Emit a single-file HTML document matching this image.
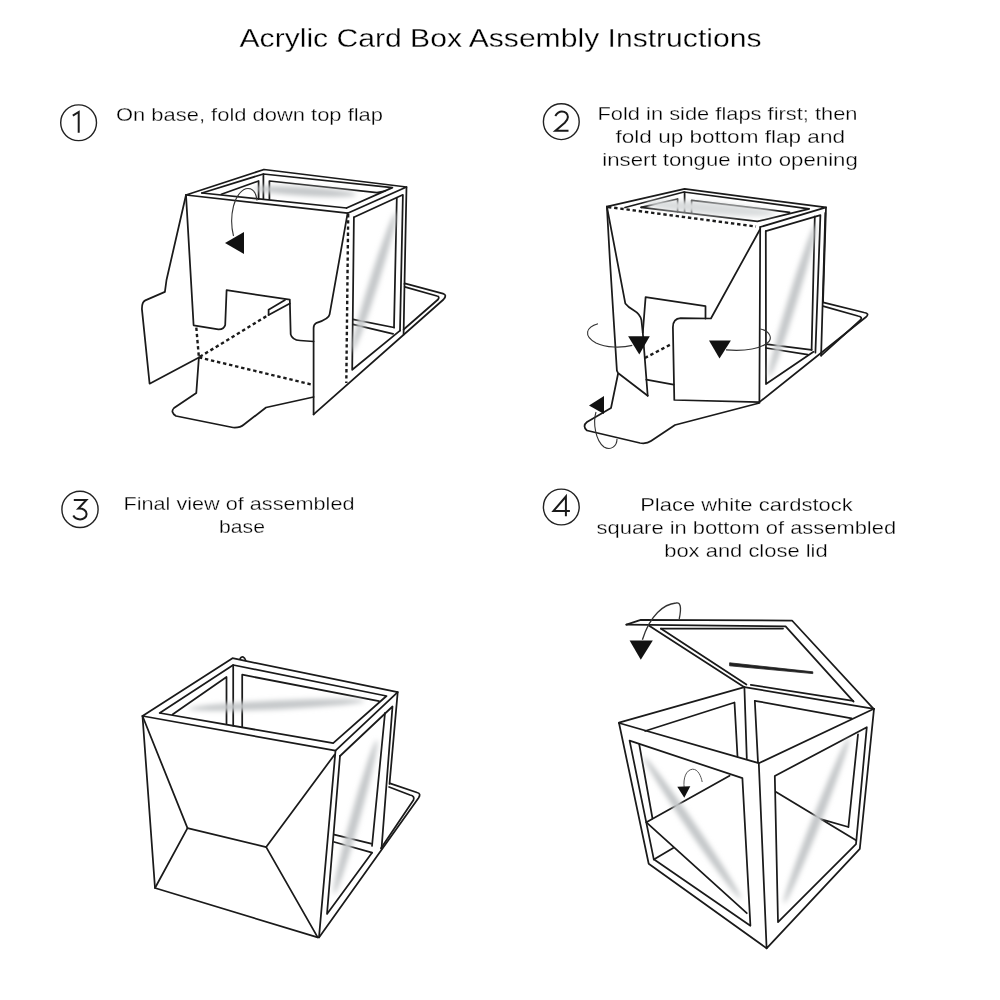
<!DOCTYPE html>
<html><head><meta charset="utf-8">
<style>
html,body{margin:0;padding:0;background:#fff;width:1000px;height:1000px;overflow:hidden;}
svg{position:absolute;left:0;top:0;will-change:transform;}
text{font-family:"Liberation Sans",sans-serif;fill:#000;stroke:#fff;stroke-width:0.28px;}
.ln{fill:none;stroke:#1a1a1a;stroke-width:1.75;stroke-linejoin:round;stroke-linecap:round;}
.dt{fill:none;stroke:#1a1a1a;stroke-width:2.4;stroke-dasharray:3.4 2.8;}
.th{fill:none;stroke:#333;stroke-width:1;}
</style></head>
<body>
<svg width="1000" height="1000" viewBox="0 0 1000 1000">
<defs>
<filter id="bl" x="-50%" y="-50%" width="200%" height="200%"><feGaussianBlur stdDeviation="2.4"/></filter>
</defs>
<!-- TEXT -->
<text x="239.5" y="46.6" font-size="25" textLength="522" lengthAdjust="spacingAndGlyphs">Acrylic Card Box Assembly Instructions</text>
<g font-size="18.5" lengthAdjust="spacingAndGlyphs">
<text x="116" y="121.3" textLength="267" lengthAdjust="spacingAndGlyphs">On base, fold down top flap</text>
<text x="597.5" y="120.3" textLength="260" lengthAdjust="spacingAndGlyphs">Fold in side flaps first; then</text>
<text x="615.5" y="143.2" textLength="229.5" lengthAdjust="spacingAndGlyphs">fold up bottom flap and</text>
<text x="602.3" y="165.6" textLength="255.5" lengthAdjust="spacingAndGlyphs">insert tongue into opening</text>
<text x="123.5" y="510.2" textLength="231" lengthAdjust="spacingAndGlyphs">Final view of assembled</text>
<text x="219" y="533" textLength="46" lengthAdjust="spacingAndGlyphs">base</text>
<text x="640.2" y="510.8" textLength="212.5" lengthAdjust="spacingAndGlyphs">Place white cardstock</text>
<text x="596.6" y="534.4" textLength="299.5" lengthAdjust="spacingAndGlyphs">square in bottom of assembled</text>
<text x="664.2" y="557" textLength="163.5" lengthAdjust="spacingAndGlyphs">box and close lid</text>
</g>
<!-- circled numbers -->
<g fill="none" stroke="#222" stroke-width="1.4">
<circle cx="78.6" cy="122.75" r="17.9"/>
<circle cx="561.3" cy="121.7" r="17.9"/>
<circle cx="80" cy="509.4" r="18.1"/>
<circle cx="561.3" cy="507" r="17.9"/>
</g>
<g fill="none" stroke="#1a1a1a" stroke-width="2" stroke-linejoin="miter" stroke-linecap="butt">
<path d="M72.8 115.6 L78.7 112 L78.7 132.8"/>
<path d="M555.3 116 C557.2 112.8 559.6 111.5 561.9 111.5 C565.3 111.5 567.9 113.9 567.9 117 C567.9 119.4 566.6 121 564.8 122.8 L555.4 130.8 L568.5 130.8"/>
<path d="M73.8 500 L86.4 500 L78.4 508.6 C83.2 508.2 86.6 510.6 86.6 513.9 C86.6 517.2 83.6 519.4 80.1 519.4 C77 519.4 74.6 517.9 73.3 515.6"/>
<path d="M565.9 516.3 L565.9 496.5 L553.5 510.9 L569.9 510.9"/>
</g>

<!-- FIGURE 1 -->
<g id="f1">
<!-- shines -->
<!-- top face -->
<path class="ln" d="M186 195 L264 169.5 L406.5 187 L347.6 213.2 Z"/>
<path class="ln" d="M202 193 L263.4 174 L392.4 187.6 L346.5 208"/>
<path class="ln" d="M202 193 L346.5 208"/>
<path class="ln" d="M221.4 194.2 L258.6 181 L258.6 199"/>
<path class="ln" d="M263.4 174 L263.4 199"/>
<path class="ln" d="M269.4 199 L269.4 181 L377 192.6 L385 191"/>
<!-- right face -->
<path class="ln" d="M406.5 187 L404.5 284"/>
<path class="ln" d="M353.9 217.3 L402.9 194.8 L400 330.6"/>
<path class="ln" d="M353.9 217.3 L352.2 369.8 L400 330.6"/>
<path class="ln" d="M396.8 198 L394 327.5"/>
<path class="ln" d="M353 319.4 L394 327.5"/>
<path class="ln" d="M353 324.3 L393.1 333.8"/>
<path class="dt" d="M348.2 214 L346.3 383"/>
<!-- base tab right -->
<path class="ln" d="M313.6 414.4 L443.5 299.5 Q447.5 295 443 293.6 L404.7 283.3"/>
<path class="ln" d="M403.6 329.5 L438 299.5 Q440 296.5 437 296 L404.7 286.8"/>
<path class="ln" d="M403.6 334.4 L404.5 284"/>
<!-- front flap -->
<path class="ln" d="M186 195 L193.6 325.3 L218.4 329.3 Q224 329.5 225.2 325 L226.6 290.2 L289.8 299.6 L290.7 334.4 Q292 340 300 340.5 L313.6 341.5"/>
<path class="ln" d="M347.6 213.2 L329.6 314.4 Q329 319 316 323.2 Q313.6 324.5 313.6 328 L313.6 414.4"/>
<!-- slot -->
<path class="ln" d="M268.6 314.9 L268.6 309.8 L285 300"/>
<path class="ln" d="M268.6 314.9 L289.8 303.5"/>
<!-- left flap -->
<path class="ln" d="M186 195 L166.5 280 L164.9 291.9 L145.3 300.4 Q141.9 302 141.9 308.9 L149.6 383.7 L198.9 357.4"/>
<!-- dotted -->
<path class="dt" d="M196.3 327.6 L198.9 357.4 L268.6 314.9"/>
<path class="dt" d="M198.9 357.4 L313.6 385"/>
<!-- bottom tab -->
<path class="ln" d="M198.9 357.4 L196.3 393 L174 408 Q170 412 176 416 L233 427.5 Q240 428 244 424.5 L266 407.5 L313.6 397"/>
<!-- curved arrow -->
<path d="M257 200.5 C256 192 252 188.5 248 188.5 C242 188.5 236 196 233.5 206 C231 216 231.5 228 233.5 236" fill="none" stroke="#333" stroke-width="1.1"/>
<path d="M225 243 L244 232 L244 254 Z" fill="#111"/>
</g>

<!-- FIGURE 2 -->
<g id="f2">
<!-- top -->
<path class="ln" d="M606.9 206.7 L684.6 188.9 L826 207.4 L760.2 227"/>
<path class="ln" d="M625 207.5 L683.9 192 L809.2 208.8 L757.4 221.4 L641.2 207.4"/>
<path class="ln" d="M641.2 207.4 L677.6 199 L677.6 211.6"/>
<path class="ln" d="M684.6 192 L684.6 212"/>
<path class="ln" d="M691.6 213 L691.6 200.4 L789.6 212.3"/>
<path class="dt" d="M608 207 L756 226.5"/>
<!-- right face -->
<path class="ln" d="M760.2 227 L759.4 402.1"/>
<path class="ln" d="M826 207.4 L823 302.4"/>
<path class="ln" d="M765.8 231.2 L820.4 215.1 L815.4 352.7"/>
<path class="ln" d="M765.8 231.2 L766 384 L813.5 351.8"/>
<path class="ln" d="M814.8 216.5 L811.6 349.9"/>
<path class="ln" d="M825.3 213 L821.1 355.6"/>
<path class="ln" d="M766 344.2 L811.6 349.9"/>
<path class="ln" d="M766 348 L807.8 354.6"/>
<path class="ln" d="M759.4 402.1 L866 317 Q870 313.5 864 312.5 L823 302.4"/>
<path class="ln" d="M821.1 355.6 L860.5 320 Q863 317 858 316 L823 306.2"/>
<!-- left flap -->
<path class="ln" d="M606.9 206.7 L609.9 260 L616.9 370.6 L618 373 L647.7 395.8"/>
<path class="ln" d="M606.9 206.7 L625.3 303.4 Q628 307 634 310.5 Q640 314 641.4 320 L642.8 332.8 L647.7 395.8"/>
<!-- tongue panel -->
<path class="ln" d="M642.8 332.8 L645.6 297.1 L705.5 306.2 L705.5 318.5"/>
<path class="ln" d="M646.3 379.7 L673.6 384.6"/>
<path class="dt" d="M644.9 358 L671.5 344"/>
<!-- right flap -->
<path class="ln" d="M760.2 229 L710.9 318.5 L680.6 318.1 Q673 318.5 672.9 327.2 L674.3 400 L759.4 402.1"/>
<!-- bottom tab -->
<path class="ln" d="M618 374 L611 408 L587 422 Q582 426 587 430.5 L640 443 Q647 444 651 441 L675 425 L759.4 403"/>
<!-- arrows -->
<path d="M598 323.7 C586 327 583 336 596 343 C606 348 622 348 632.3 345.4" fill="none" stroke="#333" stroke-width="1.1"/>
<path d="M628.1 336.3 L649.8 336.3 L639.3 354.5 Z" fill="#111"/>
<path d="M726 349.9 C740 351 756 350 766 344 C774 339 770 331 760.3 329" fill="none" stroke="#333" stroke-width="1.1"/>
<path d="M709 340.4 L730.9 340.4 L719.5 358.4 Z" fill="#111"/>
<path d="M596 412 C593 422 595 440 604 447 C611 451 617 446 617 439" fill="none" stroke="#333" stroke-width="1.1"/>
<path d="M589 405.6 L604 396 L604 414 Z" fill="#111"/>
</g>

<!-- FIGURE 3 -->
<g id="f3">
<!-- top -->
<path class="ln" d="M142.5 716 L232.5 658.2 L397.7 692.2 L335.5 750.7 Z"/>
<path class="ln" d="M159.7 713 L233.2 665 L386.5 696 L333.2 743.2 L159.7 713"/>
<path class="ln" d="M172.5 714.5 L226.5 677 L226.5 723.5"/>
<path class="ln" d="M233.2 665 L233.2 725.7"/>
<path class="ln" d="M242.2 726.5 L242.2 674.7 L379 701.2"/>
<path d="M239.8 659.6 C240.6 657.2 242 656.6 243.2 657 C244.6 657.6 245.4 659.4 246 661" fill="none" stroke="#1a1a1a" stroke-width="1.6"/>
<!-- right face -->
<path class="ln" d="M335.5 750.7 L319 937.4"/>
<path class="ln" d="M340 756 L392.5 706.5 L381.5 849"/>
<path class="ln" d="M340 756 L327 914 L372 852.7"/>
<path class="ln" d="M385 713 L372 846"/>
<path class="ln" d="M397.7 692.2 L389.5 784"/>
<path class="ln" d="M334.2 834.7 L371.1 843.7"/>
<path class="ln" d="M334.2 842 L372 852.7"/>
<path class="ln" d="M319 937.4 L418.5 798 Q421.5 793.5 417 792.5 L390 783.4"/>
<path class="ln" d="M381 848.2 L413.5 800 Q415 796 410 795 L389.1 787"/>
<!-- front face -->
<path class="ln" d="M142.5 716 L155 888 L317.7 937.4"/>
<path class="ln" d="M142.5 716 L187.5 828.2 L155 888"/>
<path class="ln" d="M187.5 828.2 L266.2 847.1 L334.5 754.7"/>
<path class="ln" d="M266.2 847.1 L317.7 937.4"/>
</g>

<!-- FIGURE 4 -->
<g id="f4">
<!-- lid -->
<path class="ln" d="M626.4 624.6 L640.8 619.8 L792 620.5 L873.6 708.8"/>
<path class="ln" d="M626.4 624.6 L785.6 626.4 L853.6 701.6"/>
<path class="ln" d="M660.8 628.6 L783 628.6"/>
<path class="ln" d="M648.8 625.4 L744.4 687.2"/>
<path class="ln" d="M660.8 628.6 L746.4 684.6"/>
<path class="ln" d="M744.4 687.2 L874 708.8"/>
<path class="ln" d="M750.8 684.8 L853.2 700.8"/>
<path d="M729.6 662.8 L812.8 671.8 L812.8 673.6 L729.6 665.8 Z" fill="#222" stroke="#222" stroke-width="0.8"/>
<!-- box top -->
<path class="ln" d="M619 722.7 L744.4 687.2"/>
<path class="ln" d="M619 723 L758.8 763.2 L874 708.8"/>
<path class="ln" d="M645.2 731 L734.5 702.5 L737.5 756.5"/>
<path class="ln" d="M744.4 687.2 L746.8 758.4"/>
<path class="ln" d="M754.8 700.8 L758 762.4"/>
<path class="ln" d="M754.8 700.8 L851.6 718.4"/>
<!-- left face -->
<path class="ln" d="M619 723 L648.7 863.7 L766.6 948.3"/>
<path class="ln" d="M629.6 740.6 L742.4 778.2 L750.4 925.8 L653.8 859.3 Z"/>
<path class="ln" d="M652.5 818.5 L639.2 744.2"/>
<path class="ln" d="M646.4 822.3 L729.6 775.8"/>
<path class="ln" d="M646.4 822.3 L746.8 913.2"/>
<path class="ln" d="M653.8 859.5 L673.2 848"/>
<!-- right face -->
<path class="ln" d="M758.8 763.2 L766.6 948.3 L859.8 848.9 L874 708.8"/>
<path class="ln" d="M774.8 776 L866.8 727.2 L856 844.1 L778 922.1 Z"/>
<path class="ln" d="M858 734.4 L848.4 827"/>
<path class="ln" d="M776.1 791.9 L856 840.3"/>
<path class="ln" d="M821.7 819.4 L848.4 827"/>
<!-- arrows -->
<path d="M679.2 619 C682 606 680 602 676 603 C664 604 650 615 642.4 639.8" fill="none" stroke="#333" stroke-width="1.3"/>
<path d="M629.6 640.6 L652.8 640.6 L640.8 659.8 Z" fill="#111"/>
<path d="M684.2 788 C683 778 686 770 692.5 769.2 C698 769 701 776 702.2 782" fill="none" stroke="#555" stroke-width="1"/>
<path d="M677.3 786.8 L690.3 786.3 L684.3 797.8 Z" fill="#111"/>
</g>

<!-- SHINES -->
<g fill="#c4c7c9" filter="url(#bl)">
<ellipse cx="305.0" cy="191.5" rx="51.1" ry="4.5" transform="rotate(3.37 305.0 191.5)"/>
<ellipse cx="374.0" cy="282.0" rx="73.4" ry="4.5" transform="rotate(107.45 374.0 282.0)"/>
<ellipse cx="792.5" cy="300.5" rx="80.0" ry="4.5" transform="rotate(107.08 792.5 300.5)"/>
<ellipse cx="276.5" cy="704.9" rx="87.6" ry="4.5" transform="rotate(-2.55 276.5 704.9)"/>
<ellipse cx="355.5" cy="817.0" rx="79.9" ry="4.5" transform="rotate(105.60 355.5 817.0)"/>
<ellipse cx="692.5" cy="828.0" rx="86.0" ry="4.5" transform="rotate(55.66 692.5 828.0)"/>
<ellipse cx="816.5" cy="820.5" rx="88.7" ry="4.5" transform="rotate(111.50 816.5 820.5)"/>
</g>
<g fill="#d9dcdd" filter="url(#bl)">
<ellipse cx="710.5" cy="208.5" rx="64.7" ry="6" transform="rotate(4.43 710.5 208.5)"/>
</g>
</svg>
</body></html>
